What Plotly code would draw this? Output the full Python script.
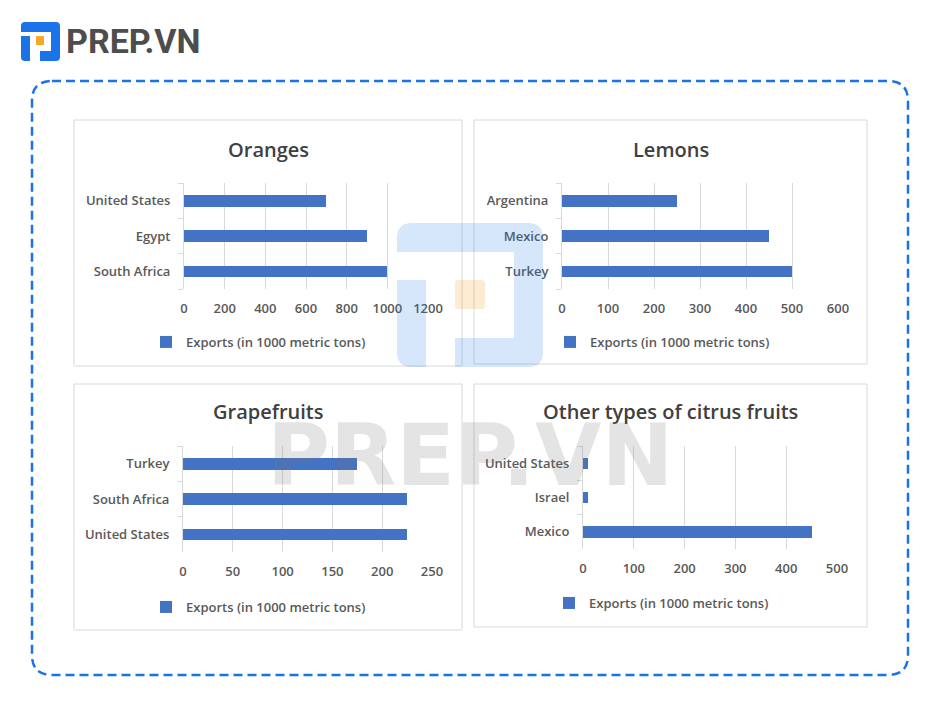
import plotly.graph_objects as go

W, H = 940, 702

# ---------------- data ----------------
oranges_countries = ["South Africa", "Egypt", "United States"]
oranges_values = [1000, 900, 700]

lemons_countries = ["Turkey", "Mexico", "Argentina"]
lemons_values = [500, 450, 250]

grapefruits_countries = ["United States", "South Africa", "Turkey"]
grapefruits_values = [225, 225, 175]

other_countries = ["Mexico", "Israel", "United States"]
other_values = [450, 10, 10]

series_name = "Exports (in 1000 metric tons)"
titles = ["Oranges", "Lemons", "Grapefruits", "Other types of citrus fruits"]

# ---------------- style ----------------
BAR = "#4472C4"
GRID = "#d9d9d9"
TXT = "#595959"
FONT = "Open Sans"


def px(x):
    return x / W


def py(y):
    return 1 - y / H


fig = go.Figure()

panels = [
    dict(c=oranges_countries, v=oranges_values, xd=(184, 428), yd=(183, 289), rng=1200, dt=200,
         leg=(146, 342), tit=(268, 149), box=(74, 120, 462, 366)),
    dict(c=lemons_countries, v=lemons_values, xd=(562, 838), yd=(183, 289), rng=600, dt=100,
         leg=(550, 342), tit=(671, 149), box=(474, 120, 867, 364)),
    dict(c=grapefruits_countries, v=grapefruits_values, xd=(183, 432), yd=(446, 552), rng=250, dt=50,
         leg=(146, 607), tit=(268, 412), box=(74, 384, 462, 630)),
    dict(c=other_countries, v=other_values, xd=(583, 837), yd=(446, 549), rng=500, dt=100,
         leg=(549, 603), tit=(670, 411), box=(474, 384, 867, 627)),
]

layout = dict(
    width=W, height=H,
    autosize=False,
    margin=dict(l=0, r=0, t=0, b=0, autoexpand=False),
    paper_bgcolor="white",
    plot_bgcolor="rgba(0,0,0,0)",
    font=dict(family=FONT, size=13, color=TXT),
    showlegend=True,
    bargap=0,
)

shapes = []
annotations = []

for i, p in enumerate(panels):
    n = i + 1
    xa = "x" if n == 1 else f"x{n}"
    ya = "y" if n == 1 else f"y{n}"
    lg = "legend" if n == 1 else f"legend{n}"
    fig.add_trace(go.Bar(
        x=p["v"], y=p["c"], orientation="h",
        name=series_name, marker=dict(color=BAR, line=dict(width=0)),
        width=0.33, xaxis=xa, yaxis=ya, legend=lg, showlegend=True,
        hoverinfo="x+y",
    ))
    xkey = "xaxis" if n == 1 else f"xaxis{n}"
    ykey = "yaxis" if n == 1 else f"yaxis{n}"
    layout[xkey] = dict(
        domain=[px(p["xd"][0]), px(p["xd"][1])], anchor=ya,
        range=[0, p["rng"]], dtick=p["dt"], tick0=0,
        showgrid=True, gridcolor=GRID, gridwidth=1,
        zeroline=False, showline=False, ticks="",
        tickfont=dict(family=FONT, size=13, color=TXT, weight=600),
        ticklabelstandoff=10, fixedrange=True,
    )
    layout[ykey] = dict(
        domain=[py(p["yd"][1]), py(p["yd"][0])], anchor=xa,
        type="category", categoryorder="array", categoryarray=p["c"],
        range=[-0.5, 2.5],
        showline=True, linecolor=GRID, linewidth=1,
        ticks="outside", tickson="boundaries", ticklen=5, tickcolor=GRID,
        showgrid=False, zeroline=False,
        tickfont=dict(family=FONT, size=13, color=TXT, weight=600),
        ticklabelstandoff=10, fixedrange=True,
    )
    layout[lg] = dict(
        x=px(p["leg"][0]), y=py(p["leg"][1]), xanchor="left", yanchor="middle",
        orientation="h", bgcolor="rgba(0,0,0,0)", borderwidth=0,
        font=dict(family=FONT, size=13, color=TXT, weight=600),
        itemwidth=30,
    )
    bx0, by0, bx1, by1 = p["box"]
    shapes.append(dict(type="rect", xref="paper", yref="paper",
                       x0=px(bx0), x1=px(bx1), y0=py(by1), y1=py(by0),
                       line=dict(color=GRID, width=1), fillcolor="rgba(0,0,0,0)", layer="below"))
    annotations.append(dict(text=titles[i], xref="paper", yref="paper",
                            x=px(p["tit"][0]), y=py(p["tit"][1]), xanchor="center", yanchor="middle",
                            showarrow=False,
                            font=dict(family=FONT, size=20, color="#404040", weight=600)))


def path(points, closed=True):
    s = ""
    for cmd, coords in points:
        pts = " ".join(f"{px(coords[j]):.5f},{py(coords[j+1]):.5f}" for j in range(0, len(coords), 2))
        s += f"{cmd}{pts} "
    return s + ("Z" if closed else "")


def rounded_rect(x0, y0, x1, y1, r):
    return path([
        ("M", (x0 + r, y0)), ("L", (x1 - r, y0)), ("Q", (x1, y0, x1, y0 + r)),
        ("L", (x1, y1 - r)), ("Q", (x1, y1, x1 - r, y1)), ("L", (x0 + r, y1)),
        ("Q", (x0, y1, x0, y1 - r)), ("L", (x0, y0 + r)), ("Q", (x0, y0, x0 + r, y0)),
    ])


# dashed outer frame
shapes.append(dict(type="path", xref="paper", yref="paper", path=rounded_rect(32, 81, 908, 675, 20),
                   line=dict(color="#1a73e8", width=2.5, dash="9px,5px"), fillcolor="rgba(0,0,0,0)",
                   layer="below"))


def logo(x0, y0, x1, y1, top, right, bottom, bx, left, ly, r, color, orange, oc, layer):
    out = []
    out.append(dict(type="path", xref="paper", yref="paper", layer=layer, line=dict(width=0),
                    fillcolor=color,
                    path=path([
                        ("M", (x0 + r, y0)), ("L", (x1 - r, y0)), ("Q", (x1, y0, x1, y0 + r)),
                        ("L", (x1, y1 - r)), ("Q", (x1, y1, x1 - r, y1)), ("L", (bx, y1)),
                        ("L", (bx, bottom)), ("L", (right, bottom)), ("L", (right, top)),
                        ("L", (x0, top)), ("L", (x0, y0 + r)), ("Q", (x0, y0, x0 + r, y0)),
                    ])))
    out.append(dict(type="path", xref="paper", yref="paper", layer=layer, line=dict(width=0),
                    fillcolor=color,
                    path=path([
                        ("M", (x0, ly)), ("L", (left, ly)), ("L", (left, y1)), ("L", (x0 + r, y1)),
                        ("Q", (x0, y1, x0, y1 - r)),
                    ])))
    ox0, oy0, ox1, oy1 = orange
    out.append(dict(type="path", xref="paper", yref="paper", layer=layer, line=dict(width=0),
                    fillcolor=oc, path=rounded_rect(ox0, oy0, ox1, oy1, (ox1 - ox0) * 0.12)))
    return out


# header logo
shapes += logo(21, 22, 60, 61, 32, 51, 51, 40, 30, 36, 4, "#1a73e8", (36, 36, 44, 45), "#f9a825", "above")
annotations.append(dict(text="<b>PREP.VN</b>", xref="paper", yref="paper", x=px(64), y=py(41),
                        xanchor="left", yanchor="middle", showarrow=False,
                        font=dict(family="Roboto", size=34, color="#4d4d4d")))

# watermark
shapes += logo(397, 223, 543, 367, 252, 514, 338, 455, 426, 280, 15,
               "rgba(30,115,232,0.18)", (455, 280, 485, 309), "rgba(251,160,30,0.2)", "above")
annotations.append(dict(text="PREP.VN", xref="paper", yref="paper", x=px(470), y=py(455),
                        xanchor="center", yanchor="middle", showarrow=False,
                        font=dict(family="DejaVu Sans", size=86, color="rgba(120,120,120,0.2)",
                                  weight="bold")))

layout["shapes"] = shapes
layout["annotations"] = annotations
fig.update_layout(**layout)

fig.write_html(
    "out.html",
    config={"responsive": False, "displayModeBar": False},
    post_script="document.body.style.margin='0';document.body.style.overflow='hidden';",
)
